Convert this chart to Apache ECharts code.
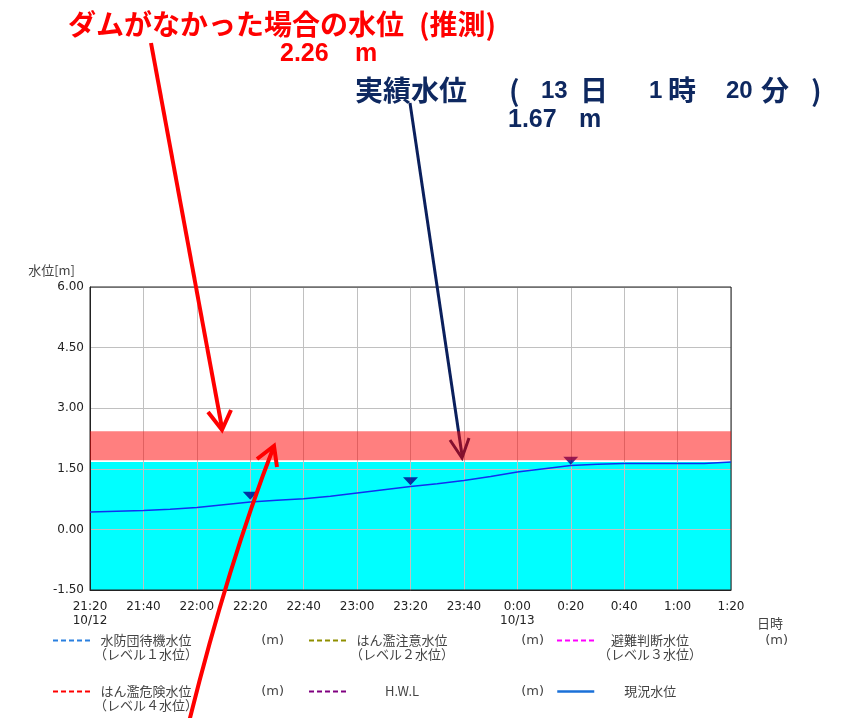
<!DOCTYPE html>
<html><head><meta charset="utf-8">
<script src="https://cdn.jsdelivr.net/npm/echarts@6/dist/echarts.min.js"></script>
<style>html,body{margin:0;padding:0;background:#fff}#c{width:843px;height:718px}</style>
</head><body><div id="c"></div>
<script>
// ---- data ----
const times = ['21:20','21:30','21:40','21:50','22:00','22:10','22:20','22:30','22:40','22:50','23:00','23:10','23:20','23:30','23:40','23:50','0:00','0:10','0:20','0:30','0:40','0:50','1:00','1:10','1:20'];
const dateLabels = {'21:20':'10/12','0:00':'10/13'};
const waterLevel = [0.43,0.45,0.47,0.50,0.54,0.61,0.68,0.72,0.76,0.82,0.90,0.98,1.06,1.13,1.21,1.31,1.42,1.50,1.58,1.61,1.63,1.63,1.63,1.63,1.67];
const markerTimes = ['22:20','23:20','0:20'];
const markerValues = [0.83,1.19,1.70];
const currentLevel = 1.67;
const estimatedBand = [1.71, 2.43];
const yMin = -1.5, yMax = 6, yStep = 1.5;
const levelNames = ['水防団待機水位','はん濫注意水位','避難判断水位','はん濫危険水位','H.W.L'];
const levelSub = ['（レベル１水位）','（レベル２水位）','（レベル３水位）','（レベル４水位）',''];
const levelColors = ['#2a80e0','#8f8f00','#ff00ff','#ff0000','#800080'];
const currentName = '現況水位';

const CJK = '"Noto Sans CJK JP", sans-serif';
const BOLD = '"Liberation Sans", "Noto Sans CJK JP", sans-serif';

const chart = echarts.init(document.getElementById('c'));

const series = [];
levelNames.forEach((n, i) => {
  series.push({name: n, type: 'line', data: [], symbol: 'none',
    lineStyle: {type: [5, 3], width: 2, color: levelColors[i]}, itemStyle: {color: levelColors[i]}});
});
series.push({
  name: currentName, type: 'line', data: waterLevel, symbol: 'none', z: 2,
  lineStyle: {color: '#1030f0', width: 1.5}, itemStyle: {color: '#1a70d8'},
  markArea: {silent: true, z: 1, itemStyle: {color: '#00ffff', opacity: 1},
    data: [[{yAxis: yMin}, {yAxis: currentLevel}]]}
});
series.push({
  name: 'marker', type: 'scatter', z: 4, symbol: 'triangle', symbolRotate: 180, symbolSize: [15, 8],
  itemStyle: {color: '#00008b'}, data: markerTimes.map((t, i) => [t, markerValues[i]]),
  markArea: {silent: true, z: 10, itemStyle: {color: 'rgba(255,0,0,0.5)'},
    data: [[{yAxis: estimatedBand[0]}, {yAxis: estimatedBand[1]}]]}
});

function legendFor(name, sub, unit) {
  if (sub) return '{a| }{m| }\n{a|' + name + '}{m|' + unit + '}\n{a|' + sub + '}{m| }';
  return '{a|' + name + '}{m|' + (unit || ' ') + '}';
}
const legendPos = [
  {left: 52, top: 620, gap: 7, mw: 87},
  {left: 308, top: 620, gap: 14, mw: 91},
  {left: 556, top: 620, gap: 6, mw: 87},
  {left: 52, top: 671, gap: 7, mw: 87},
  {left: 308, top: 685, gap: 14, mw: 91},
  {left: 556, top: 685, gap: 6, mw: 87}
];
const legendNames = levelNames.concat([currentName]);
const legends = legendNames.map((n, i) => {
  const p = legendPos[i];
  const sub = i < 5 ? levelSub[i] : '';
  const unit = i < 5 ? '(m)' : '';
  const item = {name: n};
  if (i === 5) item.lineStyle = {width: 2.5, color: '#1a70d8'};
  return {
    data: [item], left: p.left, top: p.top, padding: 0, orient: 'horizontal',
    itemWidth: 37, itemHeight: 14, itemGap: 0, itemTextGap: p.gap, selectedMode: false,
    itemStyle: {opacity: 0},
    formatter: legendFor(n, sub, unit),
    textStyle: {rich: {
      a: {width: 102, align: 'center', fontSize: 13, lineHeight: 14, color: '#444', fontFamily: CJK},
      m: {width: p.mw, align: 'right', fontSize: 13, lineHeight: 14, color: '#444', fontFamily: '"DejaVu Sans", sans-serif'}
    }}
  };
});

function txt(x, y, s, size, color, fam) {
  return {type: 'text', z: 5, style: {x: x, y: y, text: s, fill: color,
    fontSize: size, fontWeight: 'bold', fontFamily: fam || BOLD, verticalAlign: 'middle', align: 'left'}};
}
const RED = '#ff0000', NAVY = '#0e2860', ARROW_NAVY = '#0a1f5c';
const graphic = [
  txt(68, 24, 'ダムがなかった場合の水位', 28, RED, CJK),
  txt(419, 24, '(推測)', 28, RED, CJK),
  txt(280, 54, '2.26', 25, RED),
  txt(355, 54, 'm', 25, RED),
  txt(355, 90, '実績水位', 28, NAVY, CJK),
  txt(509, 90, '(', 28, NAVY, CJK),
  txt(541, 91, '13', 24, NAVY),
  txt(580, 90, '日', 28, NAVY, CJK),
  txt(649, 91, '1', 24, NAVY),
  txt(668, 90, '時', 28, NAVY, CJK),
  txt(726, 91, '20', 24, NAVY),
  txt(761, 90, '分', 28, NAVY, CJK),
  txt(811, 90, ')', 28, NAVY, CJK),
  txt(508, 120, '1.67', 25, NAVY),
  txt(579, 120, 'm', 25, NAVY),
  // arrows
  {type: 'line', z: 5, shape: {x1: 151, y1: 43, x2: 222, y2: 428}, style: {stroke: RED, lineWidth: 4}},
  {type: 'polyline', z: 5, shape: {points: [[208, 412], [222, 430], [231, 410]]}, style: {stroke: RED, lineWidth: 4, fill: null}},
  {type: 'bezierCurve', z: 5, shape: {x1: 274, y1: 446, cpx1: 228, cpy1: 565, x2: 189, y2: 722}, style: {stroke: RED, lineWidth: 4, fill: null}},
  {type: 'polyline', z: 5, shape: {points: [[257, 459], [274, 446], [277, 467]]}, style: {stroke: RED, lineWidth: 4, fill: null}},
  {type: 'line', z: 5, shape: {x1: 410, y1: 103, x2: 462, y2: 455}, style: {stroke: ARROW_NAVY, lineWidth: 3}},
  {type: 'polyline', z: 5, shape: {points: [[450, 440], [462, 458], [469, 438]]}, style: {stroke: ARROW_NAVY, lineWidth: 3, fill: null}}
];

chart.setOption({
  animation: false,
  grid: {left: 90, right: 112, top: 287, bottom: 128, show: true, borderColor: '#222', borderWidth: 1, z: 1.6},
  xAxis: {
    type: 'category', data: times, boundaryGap: false, z: 1.5,
    name: '\n日時', nameLocation: 'end', nameGap: 26,
    nameTextStyle: {fontFamily: CJK, fontSize: 13, color: '#444', lineHeight: 66},
    axisLine: {onZero: false, lineStyle: {color: '#222', width: 1}},
    axisTick: {show: false},
    axisLabel: {interval: 1, margin: 10, fontSize: 12, lineHeight: 14, color: '#222', fontFamily: '"DejaVu Sans", sans-serif',
      formatter: v => dateLabels[v] ? v + '\n' + dateLabels[v] : v},
    splitLine: {show: true, interval: 1, lineStyle: {color: '#c0c0c0', width: 1}}
  },
  yAxis: {
    type: 'value', min: yMin, max: yMax, interval: yStep, z: 1.5,
    name: '水位[m]', nameLocation: 'end', nameGap: 10,
    nameTextStyle: {fontFamily: CJK, fontSize: 13, color: '#444', align: 'right', padding: [0, 15, 0, 0]},
    axisLine: {show: true, lineStyle: {color: '#222', width: 1}},
    axisTick: {show: false},
    axisLabel: {margin: 6, fontSize: 12, color: '#222', fontFamily: '"DejaVu Sans", sans-serif', formatter: v => v.toFixed(2)},
    splitLine: {show: true, lineStyle: {color: '#c0c0c0', width: 1}}
  },
  legend: legends,
  graphic: graphic,
  series: series
});
</script></body></html>
